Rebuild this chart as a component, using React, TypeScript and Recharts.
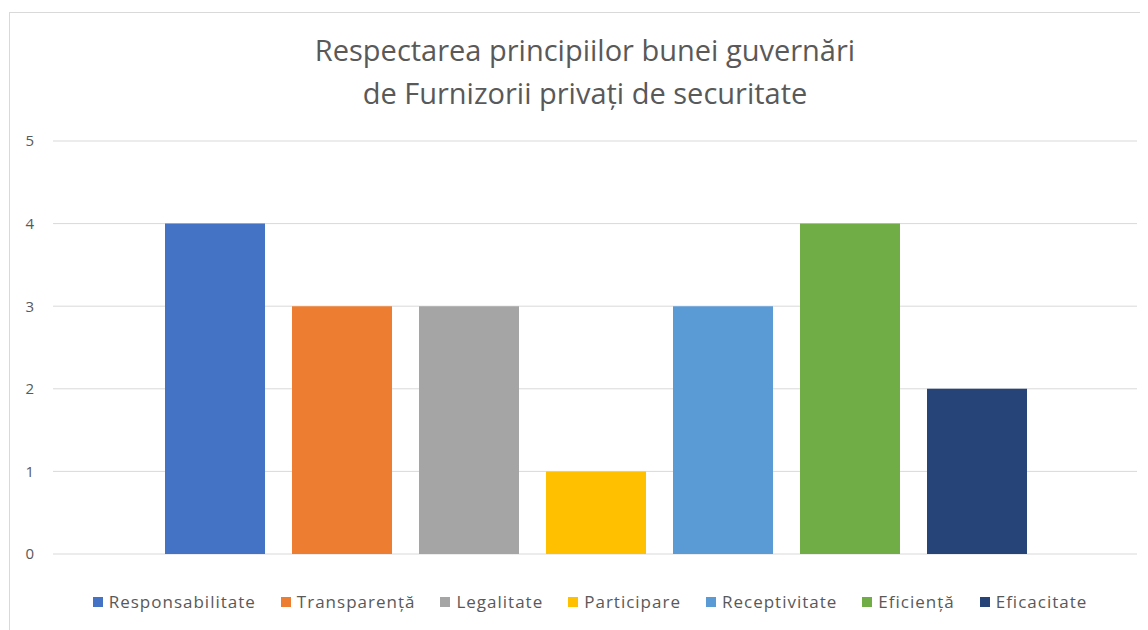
import React from "react";
import { BarChart, Bar, XAxis, YAxis, CartesianGrid, Legend } from "recharts";

const categories = [""];
const seriesNames = [
  "Responsabilitate",
  "Transparență",
  "Legalitate",
  "Participare",
  "Receptivitate",
  "Eficiență",
  "Eficacitate",
];
const seriesValues = [4, 3, 3, 1, 3, 4, 2];
const seriesColors = ["#4472C4", "#ED7D31", "#A5A5A5", "#FFC000", "#5B9BD5", "#70AD47", "#264478"];
const yTicks = [0, 1, 2, 3, 4, 5];
const titleLines = ["Respectarea principiilor bunei guvernări", "de Furnizorii privați de securitate"];

const data = categories.map((c) => {
  const row: Record<string, string | number> = { name: c };
  seriesNames.forEach((s, i) => {
    row[s] = seriesValues[i];
  });
  return row;
});

const renderLegend = () => (
  <div
    style={{
      display: "flex",
      justifyContent: "center",
      alignItems: "flex-start",
      height: 76,
      boxSizing: "border-box",
      paddingTop: 36,
      paddingLeft: 35,
      gap: 25,
      fontFamily: "'Open Sans', sans-serif",
      fontSize: 17,
      letterSpacing: 1,
      lineHeight: "24px",
      color: "#595959",
    }}
  >
    {seriesNames.map((s, i) => (
      <div key={s} style={{ display: "flex", alignItems: "center" }}>
        <span style={{ display: "inline-block", width: 10, height: 10, background: seriesColors[i], marginRight: 6 }} />
        <span>{s}</span>
      </div>
    ))}
  </div>
);

export default function App() {
  return (
    <div style={{ position: "relative", width: 1140, height: 622 }}>
      <div
        style={{
          position: "absolute",
          left: 1,
          top: 4,
          width: 1139,
          height: 618,
          borderTop: "1px solid #d9d9d9",
          borderLeft: "1px solid #d9d9d9",
        }}
      />
      <div
        style={{
          position: "absolute",
          left: 0,
          top: 20,
          width: 1154,
          textAlign: "center",
          fontFamily: "'Open Sans', sans-serif",
          fontSize: 29,
          lineHeight: "43px",
          color: "#595959",
        }}
      >
        {titleLines.map((t) => (
          <div key={t}>{t}</div>
        ))}
      </div>
      <div style={{ position: "absolute", left: 0, top: 0 }}>
        <BarChart
          width={1140}
          height={622}
          data={data}
          margin={{ top: 133, right: 11, bottom: 0, left: 0 }}
          barCategoryGap={112}
          barGap={27}
        >
          <CartesianGrid vertical={false} stroke="#d9d9d9" strokeWidth={1} />
          <XAxis dataKey="name" hide />
          <YAxis
            domain={[0, 5]}
            ticks={yTicks}
            width={45}
            axisLine={false}
            tickLine={false}
            tickMargin={13}
            tick={{ fill: "#595959", fontSize: 15, fontFamily: "'Open Sans', sans-serif" }}
          />
          <Legend verticalAlign="bottom" content={renderLegend} />
          {seriesNames.map((s, i) => (
            <Bar key={s} dataKey={s} fill={seriesColors[i]} isAnimationActive={false} />
          ))}
        </BarChart>
      </div>
    </div>
  );
}
